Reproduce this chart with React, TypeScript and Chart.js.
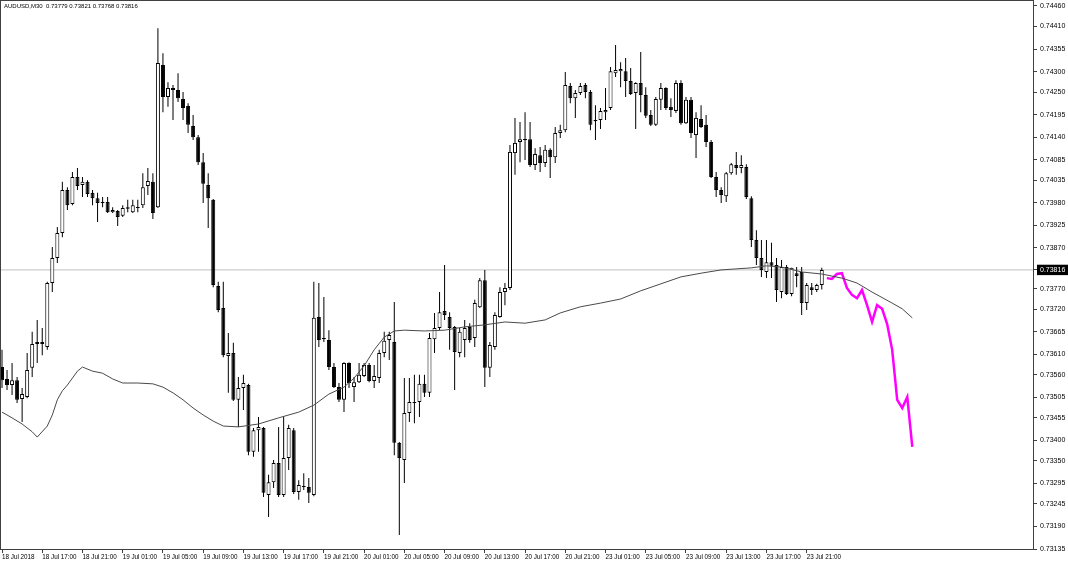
import React, { useEffect, useRef } from 'react';
import { Chart, registerables } from 'chart.js';

Chart.register(...registerables);

const TITLE = 'AUDUSD,M30  0.73779 0.73821 0.73768 0.73816';
const CURRENT_PRICE = 0.73816;

const OPEN = [
  0.73579, 0.73550, 0.73535, 0.73547, 0.73501, 0.73506, 0.73577, 0.73635, 0.73635, 0.73628,
  0.73784, 0.73845, 0.73906, 0.74011, 0.73977, 0.74043, 0.74023, 0.74031, 0.74004, 0.73991,
  0.73979, 0.73982, 0.73957, 0.73960, 0.73948, 0.73969, 0.73957, 0.73967, 0.73974, 0.74021,
  0.74031, 0.73969, 0.74316, 0.74238, 0.74260, 0.74255, 0.74233, 0.74216, 0.74167, 0.74140,
  0.74079, 0.74023, 0.73987, 0.73777, 0.73723, 0.73606, 0.73613, 0.73499, 0.73528, 0.73535,
  0.73372, 0.73425, 0.73430, 0.73267, 0.73298, 0.73345, 0.73267, 0.73357, 0.73425, 0.73274,
  0.73286, 0.73286, 0.73267, 0.73701, 0.73650, 0.73645, 0.73579, 0.73530, 0.73499, 0.73589,
  0.73530, 0.73542, 0.73557, 0.73584, 0.73545, 0.73552, 0.73613, 0.73645, 0.73640, 0.73394,
  0.73352, 0.73467, 0.73491, 0.73494, 0.73538, 0.73516, 0.73647, 0.73674, 0.73716, 0.73701,
  0.73677, 0.73613, 0.73645, 0.73677, 0.73650, 0.73725, 0.73791, 0.73577, 0.73628, 0.73701,
  0.73762, 0.73772, 0.74101, 0.74128, 0.74133, 0.74135, 0.74072, 0.74096, 0.74077, 0.74109,
  0.74091, 0.74150, 0.74157, 0.74265, 0.74235, 0.74248, 0.74267, 0.74250, 0.74182, 0.74182,
  0.74201, 0.74211, 0.74296, 0.74301, 0.74301, 0.74277, 0.74248, 0.74272, 0.74243, 0.74194,
  0.74170, 0.74231, 0.74260, 0.74214, 0.74204, 0.74272, 0.74174, 0.74231, 0.74145, 0.74184,
  0.74170, 0.74128, 0.74043, 0.74011, 0.73996, 0.74052, 0.74072, 0.74065, 0.74067, 0.73991,
  0.73889, 0.73845, 0.73811, 0.73835, 0.73828, 0.73762, 0.73823, 0.73757, 0.73808, 0.73811,
  0.73735, 0.73774, 0.73767, 0.73779,
];
const HIGH = [
  0.73621, 0.73572, 0.73589, 0.73555, 0.73528, 0.73613, 0.73665, 0.73694, 0.73674, 0.73787,
  0.73872, 0.73921, 0.74031, 0.74018, 0.74055, 0.74065, 0.74043, 0.74035, 0.74011, 0.74004,
  0.73994, 0.73994, 0.73969, 0.73962, 0.73974, 0.73987, 0.73987, 0.73987, 0.74052, 0.74065,
  0.74052, 0.74406, 0.74345, 0.74274, 0.74267, 0.74296, 0.74250, 0.74223, 0.74194, 0.74145,
  0.74101, 0.74052, 0.73989, 0.73787, 0.73787, 0.73662, 0.73638, 0.73555, 0.73560, 0.73538,
  0.73430, 0.73457, 0.73433, 0.73316, 0.73352, 0.73433, 0.73457, 0.73438, 0.73430, 0.73303,
  0.73320, 0.73308, 0.73787, 0.73784, 0.73750, 0.73669, 0.73589, 0.73540, 0.73591, 0.73591,
  0.73555, 0.73589, 0.73589, 0.73589, 0.73584, 0.73621, 0.73665, 0.73665, 0.73738, 0.73396,
  0.73552, 0.73552, 0.73560, 0.73560, 0.73560, 0.73662, 0.73711, 0.73762, 0.73828, 0.73713,
  0.73679, 0.73674, 0.73694, 0.73686, 0.73743, 0.73796, 0.73816, 0.73640, 0.73713, 0.73774,
  0.73784, 0.74121, 0.74187, 0.74177, 0.74201, 0.74177, 0.74113, 0.74116, 0.74121, 0.74113,
  0.74165, 0.74170, 0.74299, 0.74272, 0.74255, 0.74272, 0.74272, 0.74255, 0.74218, 0.74211,
  0.74260, 0.74311, 0.74365, 0.74323, 0.74333, 0.74309, 0.74274, 0.74348, 0.74262, 0.74206,
  0.74238, 0.74272, 0.74262, 0.74235, 0.74279, 0.74279, 0.74238, 0.74238, 0.74201, 0.74218,
  0.74194, 0.74133, 0.74055, 0.74018, 0.74055, 0.74077, 0.74104, 0.74096, 0.74074, 0.73996,
  0.73913, 0.73889, 0.73889, 0.73882, 0.73845, 0.73840, 0.73828, 0.73821, 0.73823, 0.73823,
  0.73784, 0.73784, 0.73782, 0.73821,
];
const LOW = [
  0.73528, 0.73523, 0.73511, 0.73491, 0.73445, 0.73503, 0.73555, 0.73589, 0.73608, 0.73621,
  0.73762, 0.73833, 0.73896, 0.73962, 0.73974, 0.74011, 0.73994, 0.73994, 0.73974, 0.73933,
  0.73969, 0.73955, 0.73955, 0.73923, 0.73945, 0.73957, 0.73955, 0.73957, 0.73967, 0.73999,
  0.73940, 0.73967, 0.74201, 0.74214, 0.74182, 0.74226, 0.74182, 0.74150, 0.74133, 0.74072,
  0.73979, 0.73918, 0.73774, 0.73713, 0.73603, 0.73516, 0.73496, 0.73433, 0.73474, 0.73364,
  0.73360, 0.73372, 0.73262, 0.73213, 0.73284, 0.73262, 0.73262, 0.73328, 0.73269, 0.73255,
  0.73279, 0.73247, 0.73264, 0.73628, 0.73640, 0.73572, 0.73528, 0.73494, 0.73469, 0.73528,
  0.73494, 0.73540, 0.73555, 0.73542, 0.73528, 0.73540, 0.73603, 0.73596, 0.73364, 0.73169,
  0.73296, 0.73445, 0.73442, 0.73457, 0.73506, 0.73506, 0.73613, 0.73669, 0.73694, 0.73621,
  0.73523, 0.73603, 0.73603, 0.73638, 0.73628, 0.73723, 0.73530, 0.73555, 0.73621, 0.73699,
  0.73730, 0.73767, 0.74048, 0.74079, 0.74084, 0.74067, 0.74060, 0.74055, 0.74067, 0.74040,
  0.74077, 0.74138, 0.74152, 0.74223, 0.74187, 0.74243, 0.74235, 0.74157, 0.74133, 0.74160,
  0.74182, 0.74206, 0.74287, 0.74262, 0.74238, 0.74243, 0.74160, 0.74201, 0.74187, 0.74167,
  0.74167, 0.74206, 0.74206, 0.74189, 0.74199, 0.74170, 0.74172, 0.74138, 0.74089, 0.74162,
  0.74116, 0.74040, 0.73994, 0.73979, 0.73982, 0.74048, 0.74048, 0.74052, 0.73989, 0.73872,
  0.73828, 0.73799, 0.73796, 0.73796, 0.73738, 0.73747, 0.73755, 0.73752, 0.73774, 0.73706,
  0.73718, 0.73755, 0.73762, 0.73768,
];
const CLOSE = [
  0.73547, 0.73535, 0.73547, 0.73499, 0.73513, 0.73572, 0.73635, 0.73640, 0.73640, 0.73784,
  0.73845, 0.73906, 0.74011, 0.73974, 0.74043, 0.74021, 0.74031, 0.74001, 0.73991, 0.73979,
  0.73982, 0.73957, 0.73962, 0.73945, 0.73967, 0.73965, 0.73974, 0.73969, 0.74018, 0.74033,
  0.73955, 0.74321, 0.74238, 0.74260, 0.74255, 0.74235, 0.74211, 0.74170, 0.74140, 0.74079,
  0.74026, 0.73991, 0.73779, 0.73718, 0.73608, 0.73613, 0.73499, 0.73528, 0.73540, 0.73372,
  0.73425, 0.73433, 0.73272, 0.73298, 0.73345, 0.73267, 0.73357, 0.73430, 0.73274, 0.73291,
  0.73289, 0.73272, 0.73699, 0.73645, 0.73647, 0.73579, 0.73530, 0.73499, 0.73589, 0.73540,
  0.73542, 0.73560, 0.73584, 0.73545, 0.73557, 0.73613, 0.73643, 0.73657, 0.73394, 0.73357,
  0.73467, 0.73494, 0.73494, 0.73538, 0.73516, 0.73650, 0.73674, 0.73713, 0.73706, 0.73674,
  0.73616, 0.73665, 0.73674, 0.73645, 0.73735, 0.73791, 0.73577, 0.73633, 0.73706, 0.73762,
  0.73772, 0.74104, 0.74126, 0.74135, 0.74135, 0.74072, 0.74099, 0.74077, 0.74109, 0.74091,
  0.74150, 0.74157, 0.74267, 0.74235, 0.74248, 0.74265, 0.74250, 0.74170, 0.74179, 0.74204,
  0.74206, 0.74301, 0.74304, 0.74306, 0.74277, 0.74245, 0.74272, 0.74243, 0.74192, 0.74170,
  0.74233, 0.74260, 0.74211, 0.74206, 0.74272, 0.74174, 0.74231, 0.74150, 0.74187, 0.74165,
  0.74128, 0.74043, 0.74011, 0.73999, 0.74052, 0.74074, 0.74065, 0.74072, 0.73994, 0.73889,
  0.73845, 0.73816, 0.73835, 0.73826, 0.73767, 0.73823, 0.73757, 0.73821, 0.73801, 0.73735,
  0.73779, 0.73767, 0.73779, 0.73816,
];

const MA_BARS = [
  0, 2, 4, 6, 7, 9, 10, 11, 12, 13, 14, 15, 16, 18, 20, 22, 24, 27, 30, 32, 34, 36, 38, 40, 42,
  44, 47, 51, 55, 59, 62, 65, 68, 70, 72, 74, 76, 78, 80, 84, 88, 92, 96, 100, 104, 108, 111, 115,
  119, 123, 127, 131, 135, 139, 143, 149, 152, 155, 159, 163, 167, 170, 173, 177, 179, 181,
];
const MA_VALUES = [
  0.73469, 0.73455, 0.73440, 0.73421, 0.73408, 0.73435, 0.73462, 0.73499, 0.73521, 0.73535,
  0.73552, 0.73569, 0.73579, 0.73569, 0.73564, 0.73550, 0.73540, 0.73540, 0.73538, 0.73530,
  0.73516, 0.73499, 0.73479, 0.73462, 0.73447, 0.73435, 0.73433, 0.73440, 0.73455, 0.73469,
  0.73486, 0.73513, 0.73530, 0.73552, 0.73582, 0.73621, 0.73652, 0.73667, 0.73669, 0.73667,
  0.73669, 0.73677, 0.73682, 0.73689, 0.73686, 0.73694, 0.73711, 0.73726, 0.73735, 0.73745,
  0.73765, 0.73782, 0.73799, 0.73808, 0.73816, 0.73821, 0.73826, 0.73823, 0.73811, 0.73806,
  0.73796, 0.73784, 0.73762, 0.73735, 0.73721, 0.73699,
];

const FORECAST_BARS = [164, 165, 166, 167, 168, 169, 170, 171, 172, 173, 174, 175, 176, 177, 178, 179, 180, 181];
const FORECAST_VALUES = [
  0.73796, 0.73794, 0.73806, 0.73808, 0.73772, 0.73755, 0.73747, 0.73767, 0.73730, 0.73689,
  0.73730, 0.73721, 0.73684, 0.73621, 0.73499, 0.73479, 0.73506, 0.73384,
];

const X_TICKS = [0, 8, 16, 24, 32, 40, 48, 56, 64, 72, 80, 88, 96, 104, 112, 120, 128, 136, 144, 152, 160];
const X_LABELS = [
  '18 Jul 2018', '18 Jul 17:00', '18 Jul 21:00', '19 Jul 01:00', '19 Jul 05:00', '19 Jul 09:00',
  '19 Jul 13:00', '19 Jul 17:00', '19 Jul 21:00', '20 Jul 01:00', '20 Jul 05:00', '20 Jul 09:00',
  '20 Jul 13:00', '20 Jul 17:00', '20 Jul 21:00', '23 Jul 01:00', '23 Jul 05:00', '23 Jul 09:00',
  '23 Jul 13:00', '23 Jul 17:00', '23 Jul 21:00',
];
const Y_TICKS = [
  0.74460, 0.74410, 0.74355, 0.74300, 0.74250, 0.74195, 0.74140, 0.74085, 0.74035, 0.73980,
  0.73925, 0.73870, 0.73816, 0.73770, 0.73720, 0.73665, 0.73610, 0.73560, 0.73505, 0.73455,
  0.73400, 0.73350, 0.73295, 0.73245, 0.73190, 0.73135,
];

const FONT = 'Liberation Sans';

const framePlugin = {
  id: 'mtFrame',
  beforeDraw(chart: any) {
    const { ctx } = chart;
    ctx.save();
    ctx.fillStyle = '#ffffff';
    ctx.fillRect(0, 0, chart.width, chart.height);
    ctx.restore();
  },
  afterDraw(chart: any) {
    const { ctx, chartArea } = chart;
    ctx.save();
    ctx.strokeStyle = '#404040';
    ctx.lineWidth = 1;
    ctx.strokeRect(
      Math.round(chartArea.left) - 0.5,
      Math.round(chartArea.top) - 0.5,
      Math.round(chartArea.right - chartArea.left) + 1,
      Math.round(chartArea.bottom - chartArea.top) + 1,
    );
    ctx.fillStyle = '#000000';
    ctx.font = `6px "${FONT}"`;
    ctx.textBaseline = 'middle';
    ctx.textAlign = 'left';
    ctx.fillText(TITLE, chartArea.left + 3, chartArea.top + 5);
    ctx.restore();
  },
};

export default function App() {
  const ref = useRef<HTMLCanvasElement>(null);

  useEffect(() => {
    const canvas = ref.current;
    if (!canvas) return;
    const idx = OPEN.map((_, i) => i);
    const wicks = idx.map((i) => ({ x: i, y: [LOW[i], HIGH[i]] }));
    const bodies = idx.map((i) => ({ x: i, y: [OPEN[i], CLOSE[i]] }));
    const ma = MA_BARS.map((b, i) => ({ x: b, y: MA_VALUES[i] }));
    const fc = FORECAST_BARS.map((b, i) => ({ x: b, y: FORECAST_VALUES[i] }));
    const priceLine = [
      { x: -1, y: CURRENT_PRICE },
      { x: 210, y: CURRENT_PRICE },
    ];

    const chart = new Chart(canvas, {
      type: 'bar',
      data: {
        datasets: [
          {
            type: 'line',
            data: ma,
            borderColor: '#4a4a4a',
            borderWidth: 1,
            pointRadius: 0,
            tension: 0,
            fill: false,
          } as any,
          {
            type: 'line',
            data: fc,
            borderColor: '#ff00ff',
            borderWidth: 2.5,
            pointRadius: 0,
            tension: 0,
            fill: false,
          } as any,
          {
            type: 'bar',
            data: bodies,
            grouped: false,
            barThickness: 4,
            minBarLength: 1,
            backgroundColor: (c: any) =>
              CLOSE[c.dataIndex] >= OPEN[c.dataIndex] ? '#ffffff' : '#000000',
            borderColor: '#000000',
            borderWidth: 1,
            borderSkipped: false,
            inflateAmount: 0,
          } as any,
          {
            type: 'bar',
            data: wicks,
            grouped: false,
            barThickness: 1,
            backgroundColor: '#000000',
            borderWidth: 0,
            inflateAmount: 0,
          } as any,
          {
            type: 'line',
            data: priceLine,
            borderColor: '#c0c0c0',
            borderWidth: 1,
            pointRadius: 0,
            fill: false,
          } as any,
        ],
      },
      options: {
        responsive: false,
        maintainAspectRatio: false,
        animation: false,
        events: [],
        layout: { padding: { top: 1, left: 1, right: 0, bottom: 0 } },
        plugins: {
          legend: { display: false },
          tooltip: { enabled: false },
          title: { display: false },
        },
        scales: {
          x: {
            type: 'linear',
            min: -0.2,
            max: 205,
            offset: false,
            border: { display: false },
            grid: {
              display: true,
              offset: false,
              drawOnChartArea: false,
              drawTicks: true,
              tickLength: 4,
              color: '#404040',
            },
            ticks: {
              autoSkip: false,
              maxRotation: 0,
              minRotation: 0,
              align: 'start',
              padding: 0,
              color: '#000000',
              font: { family: FONT, size: 6.3 },
              callback: (_v: any, i: number) => X_LABELS[i],
            },
            afterBuildTicks: (s: any) => {
              s.ticks = X_TICKS.map((v) => ({ value: v }));
            },
            afterFit: (s: any) => {
              s.height = 16;
              s.paddingLeft = 0;
              s.paddingRight = 0;
            },
          },
          y: {
            type: 'linear',
            position: 'right',
            min: 0.73135,
            max: 0.744722,
            border: { display: false },
            grid: {
              display: true,
              drawOnChartArea: false,
              drawTicks: true,
              tickLength: 4,
              color: '#404040',
            },
            ticks: {
              padding: 3,
              font: { family: FONT, size: 7 },
              color: (c: any) => (c.tick && c.tick.value === CURRENT_PRICE ? '#ffffff' : '#000000'),
              showLabelBackdrop: (c: any) => !!(c.tick && c.tick.value === CURRENT_PRICE),
              backdropColor: '#000000',
              backdropPadding: { left: 3, right: 3, top: 1, bottom: 1 },
              callback: (v: any) => Number(v).toFixed(5),
            },
            afterBuildTicks: (s: any) => {
              s.ticks = Y_TICKS.map((v) => ({ value: v }));
            },
            afterFit: (s: any) => {
              s.width = 35;
              s.paddingTop = 0;
              s.paddingBottom = 0;
            },
          },
        },
      } as any,
      plugins: [framePlugin],
    });

    return () => {
      chart.destroy();
    };
  }, []);

  return (
    <div style={{ position: 'fixed', left: 0, top: 0, width: 1068, height: 565, background: '#fff' }}>
      <canvas ref={ref} width={1068} height={565} style={{ display: 'block', width: 1068, height: 565 }} />
    </div>
  );
}
